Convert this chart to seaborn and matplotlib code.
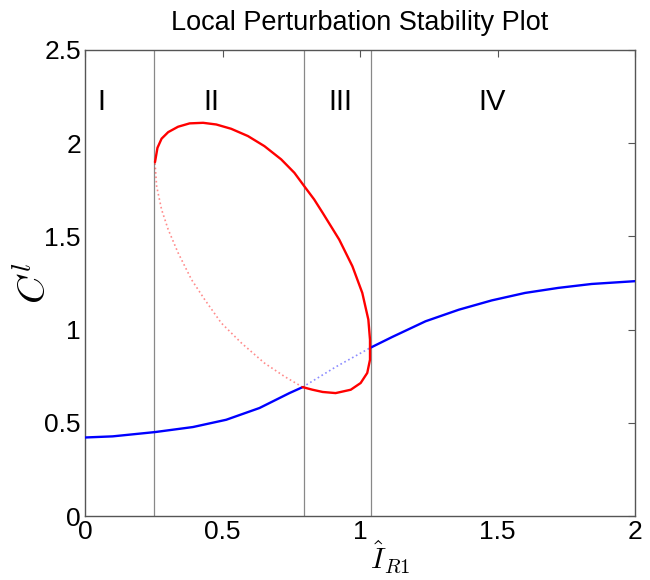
import numpy as np
import matplotlib
matplotlib.use("Agg")
import matplotlib.pyplot as plt
import seaborn as sns
import pandas as pd

# upper (stable) branch of the red loop, traced from the left wall clockwise
red_solid_x = [0.254, 0.263, 0.278, 0.302, 0.338, 0.380, 0.429, 0.477, 0.531, 0.592,
               0.652, 0.713, 0.761, 0.797, 0.833, 0.864, 0.924, 0.972, 1.008, 1.030,
               1.036, 1.036, 1.026, 1.002, 0.966, 0.911, 0.864, 0.827, 0.791]
red_solid_y = [1.898, 1.975, 2.024, 2.059, 2.088, 2.106, 2.109, 2.100, 2.077, 2.038,
               1.984, 1.913, 1.841, 1.769, 1.698, 1.626, 1.483, 1.340, 1.197, 1.054,
               0.946, 0.839, 0.768, 0.714, 0.678, 0.660, 0.666, 0.678, 0.692]
# lower (unstable) branch of the red loop
red_dot_x = [0.791, 0.725, 0.652, 0.568, 0.495, 0.435, 0.387, 0.338, 0.302, 0.278,
             0.260, 0.254]
red_dot_y = [0.692, 0.749, 0.821, 0.929, 1.036, 1.161, 1.268, 1.412, 1.537, 1.644,
             1.769, 1.898]

blue_left_x = [0.0, 0.10, 0.254, 0.392, 0.513, 0.634, 0.743, 0.791]
blue_left_y = [0.422, 0.428, 0.451, 0.478, 0.517, 0.580, 0.660, 0.692]
blue_dot_x = [0.791, 0.911, 1.036]
blue_dot_y = [0.692, 0.800, 0.902]
blue_right_x = [1.036, 1.117, 1.238, 1.359, 1.479, 1.600, 1.721, 1.842, 2.0]
blue_right_y = [0.902, 0.961, 1.045, 1.107, 1.157, 1.197, 1.224, 1.245, 1.260]

region_bounds = [0.251, 0.797, 1.039]
region_labels = ["I", "II", "III", "IV"]
region_label_x = [0.06, 0.46, 0.93, 1.48]

sns.set_style("white")
plt.rcParams['font.family'] = ['Liberation Sans', 'DejaVu Sans']
plt.rcParams['mathtext.fontset'] = 'cm'
plt.rcParams['text.color'] = 'black'
plt.rcParams['axes.labelcolor'] = 'black'

fig = plt.figure(figsize=(6.5, 5.8), dpi=100)
ax = fig.add_axes([0.131, 0.110, 0.846, 0.804])

for b in region_bounds:
    ax.axvline(b, color='#888888', lw=0.9, zorder=1)

def seg(xs, ys, color, ls, lw, alpha=1.0):
    df = pd.DataFrame({'x': xs, 'y': ys})
    sns.lineplot(data=df, x='x', y='y', sort=False, estimator=None, ax=ax,
                 color=color, linestyle=ls, lw=lw, alpha=alpha, zorder=3)

seg(blue_left_x, blue_left_y, '#0000ff', '-', 1.7)
seg(blue_dot_x, blue_dot_y, '#0000ff', ':', 1.2, 0.45)
seg(blue_right_x, blue_right_y, '#0000ff', '-', 1.7)
seg(red_solid_x, red_solid_y, '#ff0000', '-', 1.7)
seg(red_dot_x, red_dot_y, '#ff0000', ':', 1.2, 0.45)

for lab, lx in zip(region_labels, region_label_x):
    ax.text(lx, 2.22, lab, fontsize=21, ha='center', va='center', color='black')

ax.set_xlim(0, 2)
ax.set_ylim(0, 2.5)
ax.set_xticks([0, 0.5, 1, 1.5, 2])
ax.set_xticklabels(['0', '0.5', '1', '1.5', '2'])
ax.set_yticks([0, 0.5, 1, 1.5, 2, 2.5])
ax.set_yticklabels(['0', '0.5', '1', '1.5', '2', '2.5'])
ax.tick_params(direction='in', length=5, width=0.8, top=True, right=True,
               labelsize=19, color='#555555', labelcolor='black', pad=3)
for s in ax.spines.values():
    s.set_color('#555555')
    s.set_linewidth(1.0)

ax.set_title("Local Perturbation Stability Plot", fontsize=19.5, pad=14, color='black')
ax.set_xlabel(r"$\hat{I}_{R1}$", fontsize=21)
ax.xaxis.set_label_coords(0.555, -0.048, transform=ax.transAxes)
ax.xaxis.label.set_va('top')
ax.set_ylabel(r"$C^l$", fontsize=28)
ax.yaxis.set_label_coords(-0.056, 0.5)

fig.savefig("out.png", dpi=100)
